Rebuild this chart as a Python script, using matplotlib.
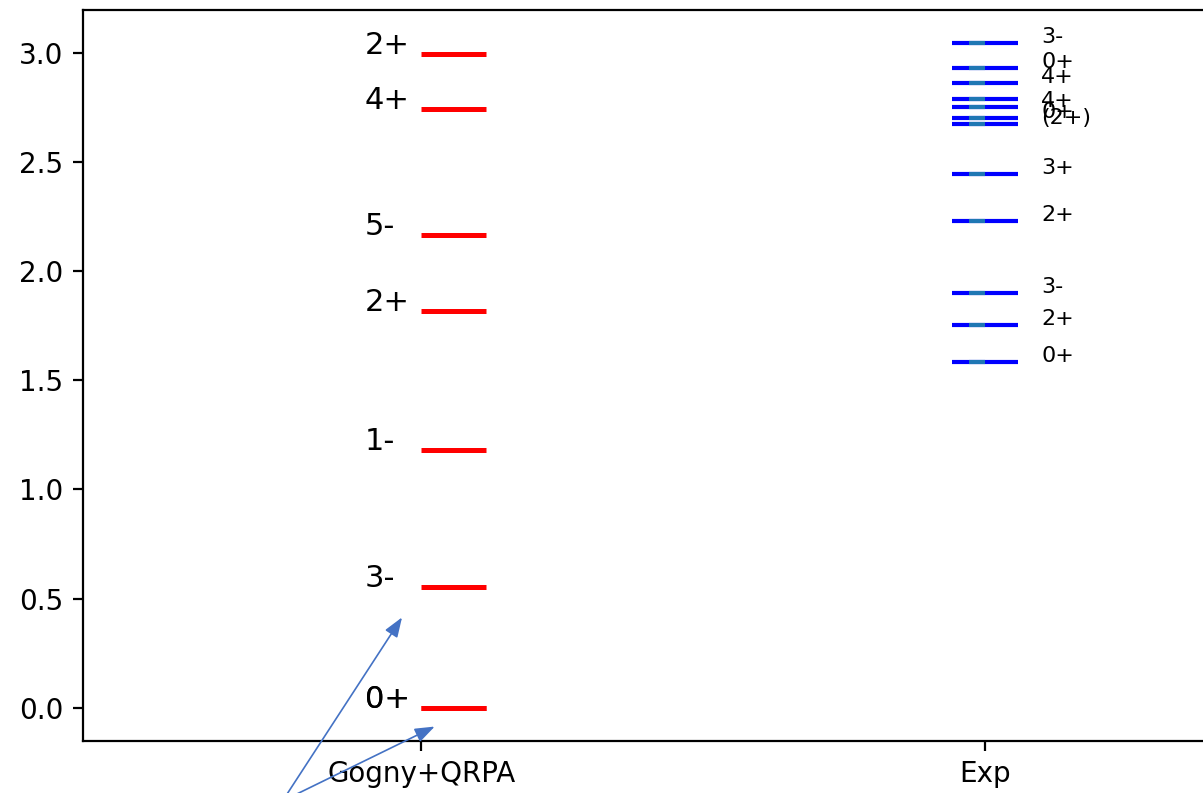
import numpy as np
from matplotlib import pyplot as plt

# calculated levels (Gogny+QRPA), MeV
th_E = [0.0, 0.0, 0.553, 1.181, 1.819, 2.167, 2.745, 2.993]
th_J = ['0+', '0+', '3-', '1-', '2+', '5-', '4+', '2+']

# experimental levels, MeV
exp_E = [1.583, 1.752, 1.898, 2.229, 2.444, 2.673, 2.700, 2.754, 2.788, 2.864, 2.930, 3.044]
exp_J = ['0+', '2+', '3-', '2+', '3+', '(2+)', '0+', '4+', '', '4+', '0+', '3-']

columns = ['Gogny+QRPA', 'Exp']

fig = plt.figure(figsize=[6.015, 3.965], dpi=200)
ax = fig.add_axes([83/1203, 52/793, 1240/1203, 731/793])

for e, j in zip(th_E, th_J):
    ax.plot([0, 0.115], [e, e], color='red', lw=1.8, solid_capstyle='butt')
    ax.text(-0.1, e, j, fontsize=11)

for e, j in zip(exp_E, exp_J):
    ax.plot([0.9415, 1.0585], [e, e], color='blue', lw=1.5, solid_capstyle='butt')
    ax.text(1.1, e, j, fontsize=8)
ax.plot([0.986]*len(exp_E), exp_E, marker='_', ls='none', ms=6, mew=1.5, color='C0')

ax.set_xlim(-0.6, 1.6)
ax.set_xticks([0, 1])
ax.set_xticklabels(columns)

arrow = dict(arrowstyle='-|>,head_length=0.6,head_width=0.22', color='#4472C4',
             lw=0.6, shrinkA=0, shrinkB=0, mutation_scale=10)
ax.annotate('', xy=(-0.034, 0.414), xytext=(-0.246, -0.427), arrowprops=arrow, annotation_clip=False)
ax.annotate('', xy=(0.024, -0.086), xytext=(-0.246, -0.427), arrowprops=arrow, annotation_clip=False)

fig.savefig('out.png')
